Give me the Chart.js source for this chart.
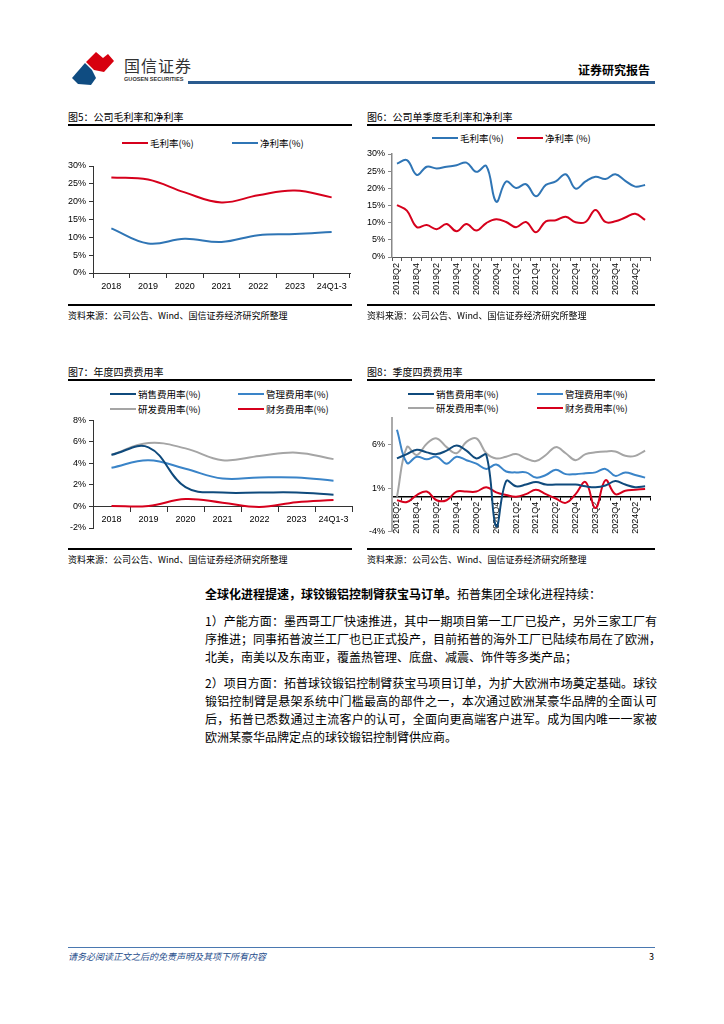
<!DOCTYPE html>
<html><head><meta charset="utf-8">
<script src="https://cdn.jsdelivr.net/npm/chart.js@4.4.1/dist/chart.umd.min.js"></script>
<style>
html,body{margin:0;padding:0;background:#fff;}
body{width:724px;height:1024px;position:relative;overflow:hidden;font-family:"Noto Sans CJK SC","Liberation Sans",sans-serif;color:#000;}
.abs{position:absolute;}
.title{font-size:10px;white-space:nowrap;line-height:12px;}
.rule{height:1.5px;background:#000;}
.src{font-size:9px;white-space:nowrap;line-height:11px;}
.leg{font-size:9.5px;white-space:nowrap;line-height:12px;display:flex;align-items:center;}
.leg i{display:inline-block;width:26px;height:2px;margin-right:2px;}
.body{font-size:12px;line-height:18px;width:452px;left:205px;}
.body div{text-align:justify;text-align-last:justify;white-space:nowrap;}
.body div.last{text-align-last:left;}
canvas{position:absolute;}
</style></head><body>

<svg class="abs" style="left:66px;top:48px" width="52" height="40" viewBox="0 0 52 40">
  <path d="M20 14 L30 4 L37 10 L42 6 L48 13 L38 24 L28 22 Z" fill="#d7000f"/>
  <path d="M6 30 L19 15 L26 22 L30 30 L25 37 L12 36 Z" fill="#0f4c81"/>
</svg>
<div class="abs" style="left:124px;top:55px;font-size:16px;line-height:20px;color:#333;letter-spacing:1px;">国信证券</div>
<div class="abs" style="left:124px;top:76px;font-size:5.6px;line-height:7px;color:#333;font-family:'Liberation Sans';font-weight:bold;">GUOSEN SECURITIES</div>
<div class="abs" style="left:578px;top:62px;font-size:12px;line-height:16px;font-weight:bold;">证券研究报告</div>
<div class="abs" style="left:188px;top:81px;width:467px;height:2.5px;background:#2a5b8f;"></div>

<!-- chart 5 -->
<div class="abs title" style="left:68px;top:111px;">图5：公司毛利率和净利率</div>
<div class="abs rule" style="left:68px;top:124px;width:284px;"></div>
<div class="abs leg" style="left:122px;top:137px;"><i style="background:#d6001c"></i>毛利率(%)</div>
<div class="abs leg" style="left:232px;top:137px;"><i style="background:#2f75b5"></i>净利率(%)</div>
<canvas id="c5" width="296" height="150" style="left:60px;top:150px;"></canvas>
<div class="abs rule" style="left:68px;top:304px;width:284px;"></div>
<div class="abs src" style="left:68px;top:310px;">资料来源：公司公告、Wind、国信证券经济研究所整理</div>

<!-- chart 6 -->
<div class="abs title" style="left:367px;top:111px;">图6：公司单季度毛利率和净利率</div>
<div class="abs rule" style="left:367px;top:124px;width:288px;"></div>
<div class="abs leg" style="left:432px;top:132px;"><i style="background:#2f75b5"></i>毛利率(%)</div>
<div class="abs leg" style="left:517px;top:132px;"><i style="background:#d6001c"></i>净利率 (%)</div>
<canvas id="c6" width="298" height="160" style="left:360px;top:145px;"></canvas>
<div class="abs rule" style="left:367px;top:304px;width:288px;"></div>
<div class="abs src" style="left:367px;top:310px;">资料来源：公司公告、Wind、国信证券经济研究所整理</div>

<!-- chart 7 -->
<div class="abs title" style="left:68px;top:366px;">图7：年度四费费用率</div>
<div class="abs rule" style="left:68px;top:379px;width:284px;"></div>
<div class="abs leg" style="left:110px;top:388px;"><i style="background:#0f4a7c"></i>销售费用率(%)</div>
<div class="abs leg" style="left:238px;top:388px;"><i style="background:#3a84c8"></i>管理费用率(%)</div>
<div class="abs leg" style="left:110px;top:403px;"><i style="background:#a5a5a5"></i>研发费用率(%)</div>
<div class="abs leg" style="left:238px;top:403px;"><i style="background:#d6001c"></i>财务费用率(%)</div>
<canvas id="c7" width="296" height="125" style="left:60px;top:412px;"></canvas>
<div class="abs rule" style="left:68px;top:548px;width:284px;"></div>
<div class="abs src" style="left:68px;top:554px;">资料来源：公司公告、Wind、国信证券经济研究所整理</div>

<!-- chart 8 -->
<div class="abs title" style="left:367px;top:366px;">图8：季度四费费用率</div>
<div class="abs rule" style="left:367px;top:379px;width:288px;"></div>
<div class="abs leg" style="left:408px;top:388px;"><i style="background:#0f4a7c"></i>销售费用率(%)</div>
<div class="abs leg" style="left:537px;top:388px;"><i style="background:#3a84c8"></i>管理费用率(%)</div>
<div class="abs leg" style="left:408px;top:402px;"><i style="background:#a5a5a5"></i>研发费用率(%)</div>
<div class="abs leg" style="left:537px;top:402px;"><i style="background:#d6001c"></i>财务费用率(%)</div>
<canvas id="c8" width="298" height="130" style="left:360px;top:410px;"></canvas>
<div class="abs rule" style="left:367px;top:548px;width:288px;"></div>
<div class="abs src" style="left:367px;top:554px;">资料来源：公司公告、Wind、国信证券经济研究所整理</div>

<div class="abs body" style="top:585px;">
<div class="last"><b>全球化进程提速，球铰锻铝控制臂获宝马订单。</b>拓普集团全球化进程持续：</div>
</div>
<div class="abs body" style="top:612px;">
<div>1）产能方面：墨西哥工厂快速推进，其中一期项目第一工厂已投产，另外三家工厂有</div>
<div>序推进；同事拓普波兰工厂也已正式投产，目前拓普的海外工厂已陆续布局在了欧洲，</div>
<div class="last">北美，南美以及东南亚，覆盖热管理、底盘、减震、饰件等多类产品；</div>
</div>
<div class="abs body" style="top:674px;">
<div>2）项目方面：拓普球铰锻铝控制臂获宝马项目订单，为扩大欧洲市场奠定基础。球铰</div>
<div>锻铝控制臂是悬架系统中门槛最高的部件之一，本次通过欧洲某豪华品牌的全面认可</div>
<div>后，拓普已悉数通过主流客户的认可，全面向更高端客户进军。成为国内唯一一家被</div>
<div class="last">欧洲某豪华品牌定点的球铰锻铝控制臂供应商。</div>
</div>

<div class="abs" style="left:68px;top:947px;width:587px;height:1px;background:#4a78b0;"></div>
<div class="abs" style="left:68px;top:951px;font-size:9px;line-height:12px;font-style:italic;color:#1f4e8c;">请务必阅读正文之后的免责声明及其项下所有内容</div>
<div class="abs" style="left:649px;top:951px;font-size:9px;line-height:12px;">3</div>

<script>
// ---------- data ----------
const annualLabels = ['2018','2019','2020','2021','2022','2023','24Q1-3'];
const grossAnnual = [26.8, 26.2, 22.6, 19.8, 21.8, 23.1, 21.2];
const netAnnual   = [12.5, 8.3, 9.6, 8.7, 10.6, 10.9, 11.5];

const quarterLabels = ['2018Q2','2018Q3','2018Q4','2019Q1','2019Q2','2019Q3','2019Q4','2020Q1','2020Q2','2020Q3','2020Q4',
  '2021Q1','2021Q2','2021Q3','2021Q4','2022Q1','2022Q2','2022Q3','2022Q4','2023Q1','2023Q2','2023Q3','2023Q4','2024Q1','2024Q2','2024Q3'];
const grossQuarter = [27.2, 28.2, 23.9, 26.3, 25.8, 26.3, 26.7, 27.5, 24.8, 26.5, 16.1, 22.0, 20.1, 21.2, 17.7, 21.0, 22.0, 24.1, 19.9, 22.0, 23.4, 22.7, 24.1, 22.2, 20.5, 21.0];
const netQuarter   = [15.1, 13.5, 8.7, 9.3, 8.1, 9.6, 7.5, 9.6, 7.7, 9.9, 11.0, 10.2, 8.7, 10.2, 7.2, 10.4, 10.7, 11.7, 10.1, 10.2, 13.7, 10.2, 10.4, 11.5, 12.6, 10.8];

const salesAnnual = [4.8, 5.5, 1.8, 1.3, 1.3, 1.3, 1.1];
const adminAnnual = [3.6, 4.3, 3.5, 2.6, 2.7, 2.7, 2.4];
const rdAnnual    = [4.8, 5.9, 5.4, 4.3, 4.7, 5.0, 4.4];
const finAnnual   = [0.05, 0.05, 0.7, 0.35, -0.05, 0.4, 0.6];

const salesQuarter = [4.4, 4.9, 5.4, 5.1, 4.9, 5.3, 5.9, 5.3, 4.4, 4.8, -3.4, 1.8, 1.2, 1.4, 1.7, 1.4, 1.4, 1.4, 1.4, 1.2, 1.1, 1.3, 1.8, 1.4, 1.1, 1.2];
const adminQuarter = [7.7, 3.9, 4.6, 4.3, 4.6, 3.8, 4.6, 4.2, 3.8, 3.2, 3.7, 2.9, 2.8, 2.8, 2.2, 2.5, 3.1, 2.6, 2.6, 2.7, 2.8, 3.2, 2.4, 2.8, 2.5, 2.2];
const rdQuarter    = [0.0, 5.7, 4.8, 6.1, 6.7, 5.7, 5.0, 6.3, 6.7, 5.0, 4.4, 4.6, 4.9, 4.4, 4.1, 4.8, 5.7, 5.0, 4.2, 4.9, 5.1, 5.2, 5.2, 4.7, 4.7, 5.3];
const finQuarter   = [-0.4, -0.6, 0.2, 0.6, -0.4, -0.4, 0.6, 0.6, 0.6, 1.1, 0.5, 0.2, 0.0, 0.3, 0.8, 0.3, -0.2, -0.7, 0.3, 1.7, -1.3, 1.9, 0.3, 0.7, 0.8, 0.9];

const yTicks5 = [0, 5, 10, 15, 20, 25, 30];
const yTicks7 = [-2, 0, 2, 4, 6, 8];
const yTicks8 = [-4, 1, 6];

// ---------- styling ----------
const RED = '#d6001c', BLUE = '#2f75b5', NAVY = '#0f4a7c', LBLUE = '#3a84c8', GRAY = '#a5a5a5';
const FONT = {family: "'Liberation Sans','Noto Sans CJK SC',sans-serif", size: 9};
Chart.defaults.font = FONT;
Chart.defaults.color = '#000';
Chart.defaults.animation = false;

function ds(label, data, color){
  return {label, data, borderColor: color, backgroundColor: color, borderWidth: 2, pointRadius: 0, tension: 0.4, fill: false};
}
const pct = v => v + '%';
const base = (pad) => ({responsive:false, maintainAspectRatio:false, devicePixelRatio:1,
  layout:{padding:pad}, plugins:{legend:{display:false}, tooltip:{enabled:false}}});

// chart 5
new Chart(document.getElementById('c5'), {
  type:'line',
  data:{labels: annualLabels, datasets:[ds('毛利率(%)', grossAnnual, RED), ds('净利率(%)', netAnnual, BLUE)]},
  options: Object.assign(base({top:16, right:6, left:0, bottom:0}), {
    scales:{
      x:{offset:true, grid:{offset:true, drawOnChartArea:false, tickLength:5, color:'#333'}, border:{color:'#333'},
         ticks:{padding:3, autoSkip:false, maxRotation:0}, afterFit:s=>{s.height=27;}},
      y:{min:0, max:30, afterBuildTicks:s=>{s.ticks=yTicks5.map(v=>({value:v}));},
         grid:{drawOnChartArea:false, tickLength:4, color:'#333'}, border:{color:'#333'},
         ticks:{padding:3, callback:pct}, afterFit:s=>{s.width=33;}}
    }})
});

// chart 6
new Chart(document.getElementById('c6'), {
  type:'line',
  data:{labels: quarterLabels, datasets:[ds('毛利率(%)', grossQuarter, BLUE), ds('净利率 (%)', netQuarter, RED)]},
  options: Object.assign(base({top:9, right:5, left:0, bottom:0}), {
    scales:{
      x:{offset:true, grid:{offset:true, drawOnChartArea:false, tickLength:4, color:'#555'}, border:{color:'#555'},
         ticks:{padding:2, autoSkip:false, minRotation:90, maxRotation:90,
           callback:function(v,i){return i%2===0 ? quarterLabels[i] : '';}}, afterFit:s=>{s.height=48;}},
      y:{min:0, max:30, afterBuildTicks:s=>{s.ticks=yTicks5.map(v=>({value:v}));},
         grid:{drawOnChartArea:false, tickLength:4, color:'#888'}, border:{color:'#888', width:1.5},
         ticks:{padding:3, callback:pct}, afterFit:s=>{s.width=32;}}
    }})
});

// chart 7
new Chart(document.getElementById('c7'), {
  type:'line',
  data:{labels: annualLabels, datasets:[ds('销售费用率(%)', salesAnnual, NAVY), ds('管理费用率(%)', adminAnnual, LBLUE),
    ds('研发费用率(%)', rdAnnual, GRAY), ds('财务费用率(%)', finAnnual, RED)]},
  options: Object.assign(base({top:7, right:4, left:0, bottom:9}), {
    scales:{
      x:{position:{y:0}, offset:true, grid:{offset:true, drawOnChartArea:false, tickLength:5, color:'#333'}, border:{color:'#333'},
         ticks:{padding:3, autoSkip:false, maxRotation:0}},
      y:{min:-2, max:8, afterBuildTicks:s=>{s.ticks=yTicks7.map(v=>({value:v}));},
         grid:{drawOnChartArea:false, tickLength:4, color:'#333'}, border:{color:'#333'},
         ticks:{padding:3, callback:pct}, afterFit:s=>{s.width=33;}}
    }})
});

// chart 8
new Chart(document.getElementById('c8'), {
  type:'line',
  data:{labels: quarterLabels, datasets:[ds('销售费用率(%)', salesQuarter, NAVY), ds('管理费用率(%)', adminQuarter, LBLUE),
    ds('研发费用率(%)', rdQuarter, GRAY), ds('财务费用率(%)', finQuarter, RED)]},
  options: Object.assign(base({top:6, right:5, left:0, bottom:7}), {
    scales:{
      x:{position:{y:0}, offset:true, grid:{offset:true, drawOnChartArea:false, tickLength:3, color:'#000'}, border:{color:'#000', width:1.5},
         ticks:{padding:2, autoSkip:false, minRotation:90, maxRotation:90,
           callback:function(v,i){return i%2===0 ? quarterLabels[i] : '';}}},
      y:{min:-4, max:9, afterBuildTicks:s=>{s.ticks=yTicks8.map(v=>({value:v}));},
         grid:{drawOnChartArea:false, tickLength:4, color:'#999'}, border:{color:'#aaa', width:2},
         ticks:{padding:3, callback:pct}, afterFit:s=>{s.width=32;}}
    }})
});
</script>
</body></html>
